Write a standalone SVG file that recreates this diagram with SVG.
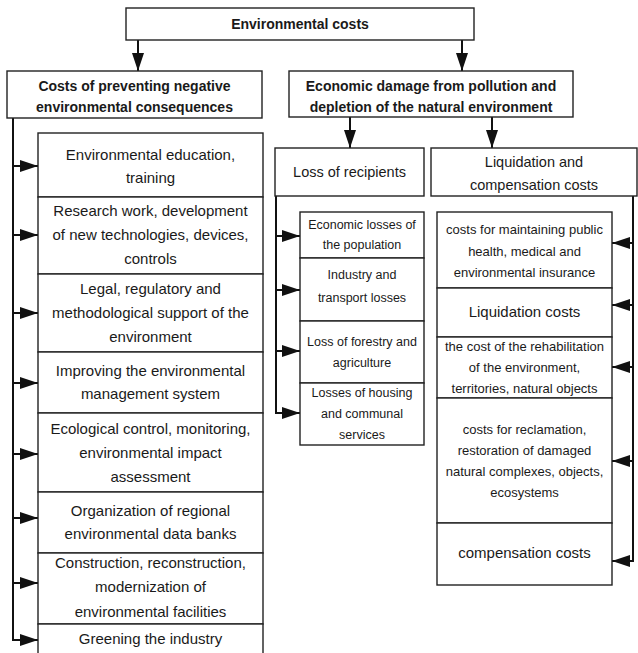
<svg xmlns="http://www.w3.org/2000/svg" width="638" height="653" viewBox="0 0 638 653">
<style>
.box{fill:#fff;stroke:#222;stroke-width:1.4}
.con{fill:none;stroke:#111;stroke-width:2}
text{font-family:"Liberation Sans",Arial,sans-serif;fill:#1a1a1a;text-anchor:middle}
.b{font-weight:bold;font-size:14px}
.m{font-size:15px}
.s{font-size:12.5px}
.t{font-size:13px}
.l{font-size:14.5px}
</style>
<defs>
<marker id="ah" viewBox="0 0 18 12" refX="18" refY="6" markerWidth="18" markerHeight="12" markerUnits="userSpaceOnUse" orient="auto">
<path d="M0,0 L18,6 L0,12 z" fill="#111"/>
</marker>
</defs>
<rect width="638" height="653" fill="#fff"/>
<g id="connectors">
<line class="con" x1="138" y1="40" x2="138" y2="71" marker-end="url(#ah)"/>
<line class="con" x1="462" y1="40" x2="462" y2="71" marker-end="url(#ah)"/>
<polyline class="con" points="13,118 13,640"/>
<line class="con" x1="12" y1="166" x2="38" y2="166" marker-end="url(#ah)"/>
<line class="con" x1="12" y1="235" x2="38" y2="235" marker-end="url(#ah)"/>
<line class="con" x1="12" y1="313" x2="38" y2="313" marker-end="url(#ah)"/>
<line class="con" x1="12" y1="383" x2="38" y2="383" marker-end="url(#ah)"/>
<line class="con" x1="12" y1="454" x2="38" y2="454" marker-end="url(#ah)"/>
<line class="con" x1="12" y1="518" x2="38" y2="518" marker-end="url(#ah)"/>
<line class="con" x1="12" y1="583" x2="38" y2="583" marker-end="url(#ah)"/>
<line class="con" x1="12" y1="640" x2="38" y2="640" marker-end="url(#ah)"/>
<line class="con" x1="350" y1="117" x2="350" y2="148" marker-end="url(#ah)"/>
<line class="con" x1="492" y1="117" x2="492" y2="148" marker-end="url(#ah)"/>
<polyline class="con" points="276,196 276,413"/>
<line class="con" x1="275" y1="236" x2="300" y2="236" marker-end="url(#ah)"/>
<line class="con" x1="275" y1="290" x2="300" y2="290" marker-end="url(#ah)"/>
<line class="con" x1="275" y1="351" x2="300" y2="351" marker-end="url(#ah)"/>
<line class="con" x1="275" y1="413" x2="300" y2="413" marker-end="url(#ah)"/>
<polyline class="con" points="633,196 633,561"/>
<line class="con" x1="634" y1="243" x2="612" y2="243" marker-end="url(#ah)"/>
<line class="con" x1="634" y1="305" x2="612" y2="305" marker-end="url(#ah)"/>
<line class="con" x1="634" y1="367" x2="612" y2="367" marker-end="url(#ah)"/>
<line class="con" x1="634" y1="461" x2="612" y2="461" marker-end="url(#ah)"/>
<line class="con" x1="634" y1="561" x2="612" y2="561" marker-end="url(#ah)"/>
</g>
<g id="n-root">
<rect class="box" x="126" y="8" width="348" height="32"/>
<text class="b" x="300" y="29">Environmental costs</text>
</g>
<g id="n-prevent">
<rect class="box" x="7" y="71" width="255" height="47"/>
<text class="b" x="134.5" y="91">Costs of preventing negative</text>
<text class="b" x="134.5" y="112">environmental consequences</text>
</g>
<g id="n-damage">
<rect class="box" x="289" y="71" width="284" height="46"/>
<text class="b" x="431" y="91">Economic damage from pollution and</text>
<text class="b" x="431" y="112">depletion of the natural environment</text>
</g>
<g id="n-p1">
<rect class="box" x="38" y="133" width="225" height="64"/>
<text class="m" x="150.5" y="160">Environmental education,</text>
<text class="m" x="150.5" y="183">training</text>
</g>
<g id="n-p2">
<rect class="box" x="38" y="197" width="225" height="77"/>
<text class="m" x="150.5" y="216">Research work, development</text>
<text class="m" x="150.5" y="240">of new technologies, devices,</text>
<text class="m" x="150.5" y="264">controls</text>
</g>
<g id="n-p3">
<rect class="box" x="38" y="274" width="225" height="78"/>
<text class="m" x="150.5" y="294">Legal, regulatory and</text>
<text class="m" x="150.5" y="318">methodological support of the</text>
<text class="m" x="150.5" y="342">environment</text>
</g>
<g id="n-p4">
<rect class="box" x="38" y="352" width="225" height="61"/>
<text class="m" x="150.5" y="376">Improving the environmental</text>
<text class="m" x="150.5" y="399">management system</text>
</g>
<g id="n-p5">
<rect class="box" x="38" y="413" width="225" height="79"/>
<text class="m" x="150.5" y="434">Ecological control, monitoring,</text>
<text class="m" x="150.5" y="458">environmental impact</text>
<text class="m" x="150.5" y="482">assessment</text>
</g>
<g id="n-p6">
<rect class="box" x="38" y="492" width="225" height="61"/>
<text class="m" x="150.5" y="516">Organization of regional</text>
<text class="m" x="150.5" y="539">environmental data banks</text>
</g>
<g id="n-p7">
<rect class="box" x="38" y="553" width="225" height="71"/>
<text class="m" x="150.5" y="568">Construction, reconstruction,</text>
<text class="m" x="150.5" y="592">modernization of</text>
<text class="m" x="150.5" y="617">environmental facilities</text>
</g>
<g id="n-p8">
<rect class="box" x="38" y="624" width="225" height="40"/>
<text class="m" x="150.5" y="644">Greening the industry</text>
</g>
<g id="n-loss">
<rect class="box" x="275" y="148" width="149" height="48"/>
<text class="l" x="349.5" y="177">Loss of recipients</text>
</g>
<g id="n-liq">
<rect class="box" x="431" y="148" width="206" height="48"/>
<text class="l" x="534" y="167">Liquidation and</text>
<text class="l" x="534" y="190">compensation costs</text>
</g>
<g id="n-l1">
<rect class="box" x="300" y="212" width="124" height="46"/>
<text class="s" x="362" y="229">Economic losses of</text>
<text class="s" x="362" y="249">the population</text>
</g>
<g id="n-l2">
<rect class="box" x="300" y="258" width="124" height="63"/>
<text class="s" x="362" y="279">Industry and</text>
<text class="s" x="362" y="302">transport losses</text>
</g>
<g id="n-l3">
<rect class="box" x="300" y="321" width="124" height="62"/>
<text class="s" x="362" y="346">Loss of forestry and</text>
<text class="s" x="362" y="367">agriculture</text>
</g>
<g id="n-l4">
<rect class="box" x="300" y="383" width="124" height="62"/>
<text class="s" x="362" y="397">Losses of housing</text>
<text class="s" x="362" y="418">and communal</text>
<text class="s" x="362" y="439">services</text>
</g>
<g id="n-c1">
<rect class="box" x="437" y="212" width="175" height="76"/>
<text class="t" x="524.5" y="234">costs for maintaining public</text>
<text class="t" x="524.5" y="256">health, medical and</text>
<text class="t" x="524.5" y="277">environmental insurance</text>
</g>
<g id="n-c2">
<rect class="box" x="437" y="288" width="175" height="49"/>
<text class="m" x="524.5" y="317">Liquidation costs</text>
</g>
<g id="n-c3">
<rect class="box" x="437" y="337" width="175" height="61"/>
<text class="t" x="524.5" y="351">the cost of the rehabilitation</text>
<text class="t" x="524.5" y="372">of the environment,</text>
<text class="t" x="524.5" y="393">territories, natural objects</text>
</g>
<g id="n-c4">
<rect class="box" x="437" y="398" width="175" height="125"/>
<text class="t" x="524.5" y="434">costs for reclamation,</text>
<text class="t" x="524.5" y="455">restoration of damaged</text>
<text class="t" x="524.5" y="476">natural complexes, objects,</text>
<text class="t" x="524.5" y="497">ecosystems</text>
</g>
<g id="n-c5">
<rect class="box" x="437" y="523" width="175" height="62"/>
<text class="m" x="524.5" y="558">compensation costs</text>
</g>
</svg>
